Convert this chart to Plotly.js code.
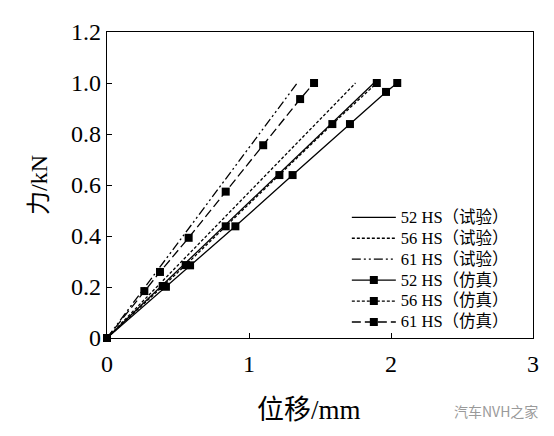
<!DOCTYPE html>
<html>
<head>
<meta charset="utf-8">
<script src="https://cdn.plot.ly/plotly-3.0.1.min.js"></script>
<style>html,body{margin:0;padding:0;background:#fff;}#chart{width:554px;height:436px;}</style>
</head>
<body>
<div id="chart"></div>
<script>
// Test curves (试验)
const x52test = [0, 1.20, 1.88];
const y52test = [0, 0.64, 1.0];
const x56test = [0, 1.12, 1.75];
const y56test = [0, 0.64, 1.0];
const x61test = [0, 0.86, 1.34];
const y61test = [0, 0.64, 1.0];
// Simulation curves (仿真)
const x52sim = [0, 0.415, 0.585, 0.904, 1.307, 1.711, 1.965, 2.044];
const y52sim = [0, 0.201, 0.285, 0.438, 0.639, 0.839, 0.965, 1.0];
const x56sim = [0, 0.392, 0.554, 0.836, 1.214, 1.587, 1.90];
const y56sim = [0, 0.204, 0.286, 0.438, 0.639, 0.839, 1.0];
const x61sim = [0, 0.263, 0.373, 0.575, 0.836, 1.10, 1.36, 1.458];
const y61sim = [0, 0.184, 0.259, 0.393, 0.574, 0.756, 0.937, 1.0];

const names = ['52 HS（试验）','56 HS（试验）','61 HS（试验）','52 HS（仿真）','56 HS（仿真）','61 HS（仿真）'];
const yTicks = [0, 0.2, 0.4, 0.6, 0.8, 1.0, 1.2];
const yTickText = ['0','0.2','0.4','0.6','0.8','1.0','1.2'];
const xTicks = [0, 1, 2, 3];
const xTickText = ['0','1','2','3'];
const xTitle = '位移/mm';
const yTitle = '力/kN';

const FONT = '"Liberation Serif", "Times New Roman", "Noto Sans CJK SC", serif';
const lw = 1.3;
function lbl(n) { return '<span style="font-size:16.5px">' + n + '</span>'; }
function line(x, y, name, dash) {
  return {x, y, name: lbl(name), type:'scatter', mode:'lines', line:{color:'#000', width:lw, dash}, cliponaxis:false};
}
function sim(x, y, name, dash) {
  return {x, y, name: lbl(name), type:'scatter', mode:'lines+markers', line:{color:'#000', width:lw, dash},
          marker:{symbol:'square', size:8, color:'#000'}, cliponaxis:false};
}
const traces = [
  line(x52test, y52test, names[0], 'solid'),
  line(x56test, y56test, names[1], '3px,2px'),
  line(x61test, y61test, names[2], '9px,3px,2px,3px,2px,3px'),
  sim(x52sim, y52sim, names[3], 'solid'),
  sim(x56sim, y56sim, names[4], '3px,2px'),
  sim(x61sim, y61sim, names[5], '9px,4px'),
];
const layout = {
  width:554, height:436,
  margin:{l:107, r:21, t:32, b:98},
  paper_bgcolor:'#fff', plot_bgcolor:'#fff',
  font:{family:FONT, color:'#000'},
  showlegend:true,
  legend:{x:0.563, y:0.445, xanchor:'left', yanchor:'top', bgcolor:'rgba(0,0,0,0)',
          font:{family:FONT, size:13.8, color:'#000'}, tracegroupgap:0, itemwidth:44},
  xaxis:{range:[0,3], tickvals:xTicks, ticktext:xTickText, ticks:'inside', ticklen:5, tickcolor:'#000',
         showline:true, linecolor:'#000', linewidth:1.2, mirror:true, showgrid:false, zeroline:false,
         tickfont:{family:FONT, size:24}, ticklabelstandoff:4},
  yaxis:{range:[0,1.2], tickvals:yTicks, ticktext:yTickText, ticks:'inside', ticklen:5, tickcolor:'#000',
         showline:true, linecolor:'#000', linewidth:1.2, mirror:true, showgrid:false, zeroline:false,
         tickfont:{family:FONT, size:24},
         title:{text:yTitle, font:{family:FONT, size:24}, standoff:16}},
  annotations:[
    {xref:'paper', yref:'paper', x:0.474, y:-0.236, xanchor:'center', yanchor:'middle',
     text:xTitle, showarrow:false, font:{family:FONT, size:27, color:'#000'}},
    {xref:'paper', yref:'paper', x:1.016, y:-0.238, xanchor:'right', yanchor:'middle',
     text:'汽车NVH之家', showarrow:false, font:{family:'"Noto Sans CJK SC", sans-serif', size:14, color:'#9a9a9a'}}]
};
Plotly.newPlot('chart', traces, layout, {displayModeBar:false, staticPlot:true});
</script>
</body>
</html>
